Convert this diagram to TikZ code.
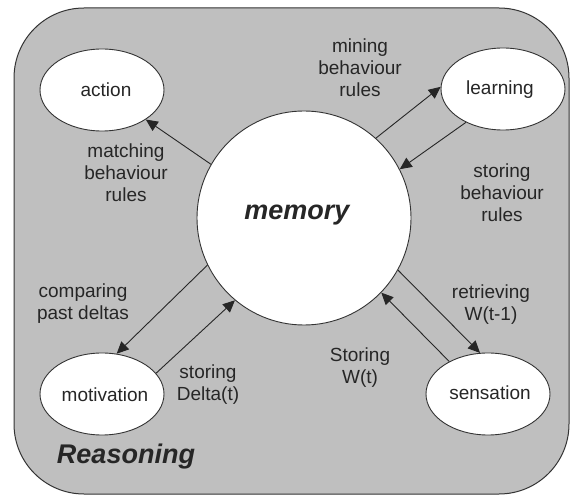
\documentclass[tikz,border=0pt]{standalone}
\usepackage{fontspec}
\setmainfont{Liberation Sans}
\usetikzlibrary{shapes.geometric,arrows.meta}
\begin{document}
\begin{tikzpicture}[x=1pt,y=-1pt,
  every node/.style={font=\fontsize{19}{22}\selectfont, text=black!85},
  state/.style={ellipse, draw=black!80, line width=0.9pt, fill=white, minimum width=124pt, minimum height=82pt, inner sep=0pt},
  lbl/.style={align=center, inner sep=0pt},
  conn/.style={draw=black!85, line width=0.9pt, -{Triangle[length=12pt,width=11pt]}}]
\useasboundingbox (0,0) rectangle (571,497);
\draw[fill=black!25, draw=black!80, line width=1pt, rounded corners=70pt] (14,8) rectangle (569,494);
\node[circle, draw=black!80, line width=0.9pt, fill=white, minimum size=214pt, inner sep=0pt] (mem) at (304,218) {};
\node[font=\fontsize{27}{30}\selectfont\bfseries\itshape] (memtxt) at (297,215) {memory};
\node[state] (action) at (102,90) {};
\node (actiontxt) at (106,90) {action};
\node[state] (learning) at (503,89) {};
\node (learningtxt) at (500,90) {learning};
\node[state] (motivation) at (102,394) {};
\node (motivationtxt) at (105,395) {motivation};
\node[state] (sensation) at (488,394) {};
\node (sensationtxt) at (490,393) {sensation};
\draw[conn] (mem.150) -- (action.-34);
\draw[conn] (mem.48) -- (learning.178);
\draw[conn] (learning.222) -- (mem.27);
\draw[conn] (mem.206) -- (motivation.70);
\draw[conn] (motivation.21) -- (mem.230);
\draw[conn] (mem.-29) -- (sensation.101);
\draw[conn] (sensation.140) -- (mem.-44);
\node[lbl] (l1) at (126,173) {matching\\behaviour\\rules};
\node[lbl] (l2) at (360,68) {mining\\behaviour\\rules};
\node[lbl] (l3) at (502,193) {storing\\behaviour\\rules};
\node[lbl] (l4) at (83,304) {comparing\\past deltas};
\node[lbl] (l5) at (208,385) {storing\\Delta(t)};
\node[lbl] (l6) at (491,305) {retrieving\\W(t-1)};
\node[lbl] (l7) at (360,368) {Storing\\W(t)};
\node[font=\fontsize{27}{30}\selectfont\bfseries\itshape] (reason) at (126,457) {Reasoning};
\end{tikzpicture}
\end{document}
